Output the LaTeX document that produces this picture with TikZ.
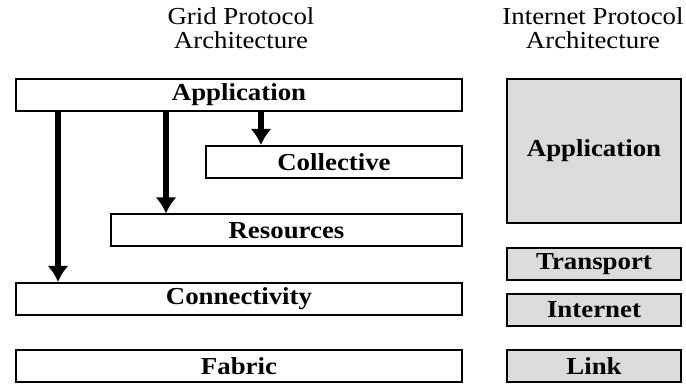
\documentclass[tikz,border=0pt]{standalone}
\usepackage{fontspec}
\setmainfont{Liberation Serif}[FakeStretch=1.1]
\usetikzlibrary{positioning,arrows.meta}

\begin{document}
\begin{tikzpicture}[x=0.5pt,y=-0.5pt,
						layer/.style={draw, rectangle, line width=1pt, inner sep=0pt, minimum height=16pt, font=\bfseries\fontsize{12.2}{12}\selectfont},
						gridL/.style={layer, fill=white, anchor=east},
						inetL/.style={layer, fill=black!14, minimum width=87pt},
						title/.style={align=center, inner sep=0pt, anchor=north, font=\fontsize{12.2}{12}\selectfont},
						uses/.style={->, line width=3pt},
						>={Latex[length=8pt,width=10.5pt]}]
					\useasboundingbox (0,0) rectangle (686,384);
					
					% titles
					\node[title] (gridT) at (241,7) {Grid Protocol\\Architecture};
					\node[title] (inetT) at (593,7) {Internet Protocol\\Architecture};
					
					% grid layers
					\node[gridL, minimum width=223pt] (app) at (463,95) {Application};
					\node[gridL, minimum width=128pt] (coll) at (463,162) {Collective};
					\node[gridL, minimum width=175.5pt] (res) at (463,230.5) {Resources};
					\node[gridL, minimum width=223pt] (conn) at (463,299) {Connectivity};
					\node[gridL, minimum width=223pt] (fab) at (463,366) {Fabric};
					
					% internet layers
					\node[inetL, minimum height=72pt] (iapp) at (594,151) {Application};
					\node[inetL] (trans) at (594,264.5) {Transport};
					\node[inetL] (inet) at (594,310) {Internet};
					\node[inetL] (link) at (594,366) {Link};
					
					\coordinate (c1) at (58,0);
					\coordinate (c2) at (166,0);
					\coordinate (c3) at (261,0);
					\draw[uses] (app.south -| c1) -- (conn.north -| c1);
					\draw[uses] (app.south -| c2) -- (res.north -| c2);
					\draw[uses] (app.south -| c3) -- (coll.north -| c3);
				\end{tikzpicture}
\end{document}
